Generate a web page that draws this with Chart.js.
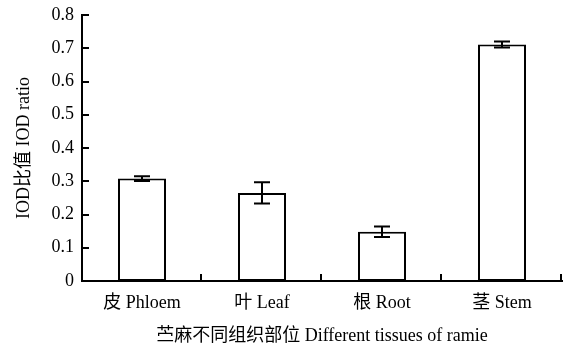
<!DOCTYPE html>
<html>
<head>
<meta charset="utf-8">
<script src="https://cdn.jsdelivr.net/npm/chart.js@4"></script>
<style>
  html, body { margin: 0; padding: 0; background: #fff; }
  #wrap { width: 567px; height: 347px; }
</style>
</head>
<body>
<div id="wrap"><canvas id="myChart" width="567" height="347"></canvas></div>
<script>
var tissues = ['皮 Phloem', '叶 Leaf', '根 Root', '茎 Stem'];
var iodRatio = [0.308, 0.265, 0.148, 0.711];
var iodError = [0.007, 0.032, 0.016, 0.009];
var yTicks = [0, 0.1, 0.2, 0.3, 0.4, 0.5, 0.6, 0.7, 0.8];

var FONT = "'Liberation Serif', 'Times New Roman', 'Noto Sans CJK SC', serif";

// error bars and inward tick marks
var extras = {
    id: 'extras',
    afterDatasetsDraw: function(chart) {
        var ctx = chart.ctx;
        var x = chart.scales.x, y = chart.scales.y;
        ctx.save();
        ctx.strokeStyle = '#000';
        ctx.lineWidth = 2;
        for (var i = 0; i < iodRatio.length; i++) {
            var cx = x.getPixelForValue(i);
            var top = y.getPixelForValue(iodRatio[i] + iodError[i]);
            var bot = y.getPixelForValue(iodRatio[i] - iodError[i]);
            ctx.beginPath();
            ctx.moveTo(cx, top); ctx.lineTo(cx, bot);
            ctx.moveTo(cx - 8, top); ctx.lineTo(cx + 8, top);
            ctx.moveTo(cx - 8, bot); ctx.lineTo(cx + 8, bot);
            ctx.stroke();
        }
        var area = chart.chartArea;
        ctx.beginPath();
        yTicks.forEach(function(v) {
            if (v === 0) return;
            var py = Math.round(y.getPixelForValue(v));
            ctx.moveTo(area.left, py); ctx.lineTo(area.left + 7, py);
        });
        var step = (area.right - area.left) / tissues.length;
        for (var j = 1; j <= tissues.length; j++) {
            var px = Math.round(area.left + step * j) - 1;
            ctx.moveTo(px, area.bottom); ctx.lineTo(px, area.bottom - 7);
        }
        ctx.stroke();
        ctx.restore();
    }
};

var ctx = document.getElementById('myChart').getContext('2d');
var chart = new Chart(ctx, {
    type: 'bar',
    data: {
        labels: tissues,
        datasets: [{
            data: iodRatio,
            backgroundColor: '#fff',
            borderColor: '#000',
            borderWidth: 2,
            borderSkipped: false,
            barPercentage: 0.4,
            categoryPercentage: 1.0
        }]
    },
    options: {
        responsive: false,
        animation: false,
        layout: { padding: { top: 15, right: 5, left: 0, bottom: 0 } },
        plugins: {
            legend: { display: false },
            tooltip: { enabled: false }
        },
        scales: {
            x: {
                grid: { display: false, drawTicks: false },
                border: { display: true, color: '#000', width: 2 },
                ticks: {
                    color: '#000',
                    padding: 11,
                    maxRotation: 0,
                    font: { family: FONT, size: 18 }
                },
                title: {
                    display: true,
                    text: '苎麻不同组织部位 Different tissues of ramie',
                    color: '#000',
                    font: { family: FONT, size: 18 },
                    padding: { top: 10, bottom: 0 }
                },
                afterFit: function(scale) {
                    scale.height = 66;
                    scale.paddingLeft = 0;
                    scale.paddingRight = 0;
                }
            },
            y: {
                min: 0,
                max: 0.8,
                grid: { display: false, drawTicks: false },
                border: { display: true, color: '#000', width: 2 },
                afterBuildTicks: function(scale) {
                    scale.ticks = yTicks.map(function(v) { return { value: v }; });
                },
                ticks: {
                    color: '#000',
                    padding: 8,
                    font: { family: FONT, size: 18 },
                    callback: function(value) { return value === 0 ? '0' : value.toFixed(1); }
                },
                title: {
                    display: true,
                    text: 'IOD比值 IOD ratio',
                    color: '#000',
                    font: { family: FONT, size: 18 },
                    padding: { top: 13, bottom: 0 }
                },
                afterFit: function(scale) {
                    scale.width = 82;
                    scale.paddingTop = 0;
                    scale.paddingBottom = 0;
                }
            }
        }
    },
    plugins: [extras]
});
</script>
</body>
</html>
